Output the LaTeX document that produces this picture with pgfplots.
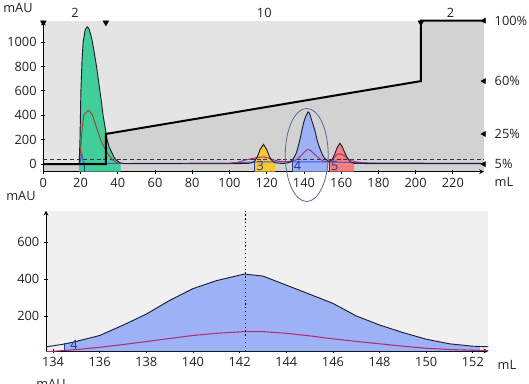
\documentclass[border=0pt]{standalone}
\usepackage{fontspec}
\setmainfont{Open Sans}
\usepackage{pgfplots}
\pgfplotsset{compat=1.18}
\definecolor{bglight}{RGB}{228,228,228}
\definecolor{bgdark}{RGB}{210,210,210}
\definecolor{bgbot}{RGB}{240,240,240}
\definecolor{pkgreen}{RGB}{64,206,154}
\definecolor{pkyellow}{RGB}{246,200,52}
\definecolor{pkblue}{RGB}{156,178,245}
\definecolor{pkred}{RGB}{244,128,126}
\definecolor{outl}{RGB}{30,30,50}
\definecolor{uvmag}{RGB}{176,44,120}
\definecolor{uvbrown}{RGB}{168,64,48}
\definecolor{uvblue}{RGB}{64,84,222}
\definecolor{fracblue}{RGB}{40,56,140}
\definecolor{txt}{RGB}{34,34,34}
\newcommand{\fs}{\fontsize{9.6}{11}\selectfont}
\pgfplotsset{
  base/.style={scale only axis, anchor=south west, clip=true,
    tick align=outside, major tick length=3pt,
    axis line style={-, black, line width=0.6pt},
    tick style={black, line width=0.6pt},
    tick label style={font=\fs, text=txt},
    /pgf/number format/assume math mode=true,
    /pgf/number format/1000 sep={}},
  hid/.style={scale only axis, anchor=south west, hide axis}
}
\begin{document}
\begin{tikzpicture}
% ---------- top: background and gradient area ----------
\begin{axis}[hid, at={(32.475pt,158.475pt)}, width=330.5pt, height=113.25pt,
  xmin=0, xmax=236.7, ymin=0, ymax=100]
\addplot[fill=bglight, draw=none] coordinates {(0,0)(0,100)(236.7,100)(236.7,0)} -- cycle;
\addplot[fill=bgdark, draw=none] coordinates {(0,0)(0,5)(33.6,5)(33.6,25)(202.8,60)(202.8,100)(236.7,100)(236.7,0)} -- cycle;
\end{axis}
% ---------- top: chromatogram ----------
\begin{axis}[base, at={(32.475pt,158.475pt)}, width=330.5pt, height=113.25pt,
  xmin=0, xmax=236.7, ymin=-63, ymax=1175,
  axis x line=bottom, axis y line=left,
  xtick={0,20,...,220}, ytick={0,200,...,1000}]
\addplot[fill=pkgreen, draw=none] coordinates {(19.3,-63)(19.3,5)(19.7,200)(20.2,600)(20.8,850)(21.4,1000)(22.5,1100)(23.6,1125)(24.5,1110)(25.5,1060)(26.4,1000)(27.5,900)(28.6,800)(29.5,700)(30.4,600)(31.3,500)(32.1,400)(33.2,300)(34.3,200)(35.4,140)(36.6,100)(38,55)(39,35)(40.2,20)(41.5,8)(41.5,-63)} -- cycle;
\addplot[fill=pkyellow, draw=none] coordinates {(113.3,-63)(113.3,21)(115,60)(116.5,120)(118.3,161)(120,118)(121.5,60)(123,25)(124.7,9)(124.7,-63)} -- cycle;
\addplot[fill=pkblue, draw=none] coordinates {(133.8,-63)(133.8,34)(134,38)(135,62)(136,94)(137,150)(138,210)(139,284)(140,348)(141,391)(142.2,427)(143,416)(144,367)(145,318)(146,268)(147,200)(148,151)(149,110)(150,74)(151,49)(152,36)(152.8,26)(152.8,-63)} -- cycle;
\addplot[fill=pkred, draw=none] coordinates {(153.6,-63)(153.6,20)(155,30)(156.5,80)(158,140)(159.3,170)(160.5,145)(162,90)(163.5,45)(165.2,15)(167,6)(167,-63)} -- cycle;
\addplot[black!80, dashed, dash pattern=on 3pt off 2pt, line width=0.6pt] coordinates {(0,38)(236.7,38)};
\addplot[uvblue, line width=0.7pt] coordinates {(0,3)(19.5,3)(20.2,40)(20.7,88)(21.2,40)(21.8,5)(40,4)(100,8)(110,15)(120,18)(150,18)(160,15)(175,8)(236.7,5)};
\addplot[uvbrown, line width=0.7pt] coordinates {(0,2)(19,2)(19.5,20)(20.2,150)(20.9,300)(21.8,400)(24.1,440)(25.3,425)(26.4,400)(28.6,300)(30.7,200)(32.3,150)(34,100)(35.8,60)(37.5,30)(39.5,12)(42,4)};
\addplot[uvmag, line width=0.7pt] coordinates {(42,4)(100,4)(104,12)(108,30)(112,45)(116,55)(118.5,58)(121,48)(124,32)(127,22)(131,20)(134,25)(136,35)(138,61)(140,94)(141.4,115)(142.5,118)(144,106)(146,76)(148,49)(150,27)(152,18)(154,22)(156,50)(158,80)(160,82)(162,65)(164,40)(167,20)(172,10)(180,6)(236.7,5)};
\addplot[outl, line width=0.7pt] coordinates {(0,2)(10,2)(18.5,3)(19.3,5)(19.7,200)(20.2,600)(20.8,850)(21.4,1000)(22.5,1100)(23.6,1125)(24.5,1110)(25.5,1060)(26.4,1000)(27.5,900)(28.6,800)(29.5,700)(30.4,600)(31.3,500)(32.1,400)(33.2,300)(34.3,200)(35.4,140)(36.6,100)(38,55)(39,35)(40.2,20)(41.5,8)(44,3)(100,2)(110,5)(112,10)(113.4,22)(115,60)(116.5,120)(118.3,161)(120,118)(121.5,60)(123,25)(124.5,10)(128,5)(130,6)(132,12)(133,22)(133.8,34)(134,38)(135,62)(136,94)(137,150)(138,210)(139,284)(140,348)(141,391)(142.2,427)(143,416)(144,367)(145,318)(146,268)(147,200)(148,151)(149,110)(150,74)(151,49)(152,36)(153.5,18)(155,30)(156.5,80)(158,140)(159.3,170)(160.5,145)(162,90)(163.5,45)(165.2,15)(167,6)(175,3)(236.7,3)};
\addplot[fracblue, line width=0.7pt] coordinates {(22.3,-63)(22.3,0)};
\addplot[fracblue, line width=0.7pt] coordinates {(113.3,-63)(113.3,38)};
\addplot[fracblue, line width=0.7pt] coordinates {(133.7,-63)(133.7,38)};
\addplot[fracblue, line width=0.7pt] coordinates {(153.5,-63)(153.5,38)};
\node[font=\fs, text=fracblue] at (axis cs:116.6,-14) {3};
\node[font=\fs, text=fracblue] at (axis cs:136.6,-14) {4};
\node[font=\fs, text=fracblue] at (axis cs:156.6,-14) {5};
\coordinate (ell) at (axis cs:141.5,74);
\end{axis}
\draw[color={rgb,255:red,90;green,106;blue,150}, line width=0.6pt] (ell) ellipse [x radius=16.1pt, y radius=34.9pt];
% ---------- top: gradient overlay ----------
\begin{axis}[hid, at={(32.475pt,158.475pt)}, width=330.5pt, height=113.25pt,
  xmin=0, xmax=236.7, ymin=0, ymax=100, clip=false]
\addplot[black, line width=1.5pt] coordinates {(0,5)(33.6,5)(33.6,25)(202.8,60)(202.8,100)(236.7,100)};
\addplot[only marks, mark=triangle*, mark size=2.2pt, mark options={rotate=90, fill=black, draw=black}] coordinates {(236.7,5)(236.7,25)(236.7,60)(236.7,100)};
\addplot[only marks, mark=triangle*, mark size=2.4pt, mark options={rotate=180, fill=black, draw=black}] coordinates {(0,98.8)(33.6,98.8)(202.8,98.8)};
\node[font=\fs, text=txt, anchor=west] at (axis cs:236.7,5) {\hspace{4.5pt}5\%};
\node[font=\fs, text=txt, anchor=west] at (axis cs:236.7,25) {\hspace{4.5pt}25\%};
\node[font=\fs, text=txt, anchor=west] at (axis cs:236.7,60) {\hspace{4.5pt}60\%};
\node[font=\fs, text=txt, anchor=west] at (axis cs:236.7,100) {\hspace{4.5pt}100\%};
\node[font=\fs, text=txt] at (axis cs:17,105) {2};
\node[font=\fs, text=txt] at (axis cs:118.7,105) {10};
\node[font=\fs, text=txt] at (axis cs:218.7,105) {2};
\end{axis}
% ---------- bottom: zoom ----------
\begin{axis}[base, at={(34.5pt,24pt)}, width=331.7pt, height=105.2pt,
  xmin=133.7, xmax=152.66, ymin=10, ymax=770,
  axis x line=bottom, axis y line=left,
  axis background/.style={fill=bgbot},
  xtick={134,136,...,152}, ytick={200,400,600}]
\addplot[fill=pkblue, draw=none] coordinates {(134.5,10)(134.5,48)(135,62)(136,94)(137,150)(138,210)(139,284)(140,348)(141,391)(142.2,427)(143,416)(144,367)(145,318)(146,268)(147,200)(148,151)(149,110)(150,74)(151,49)(152,36)(152.3,34)(152.3,10)} -- cycle;
\addplot[uvmag, line width=0.8pt] coordinates {(133.7,6)(134,8)(135,18)(136,30)(137,45)(138,61)(139,78)(140,94)(141,106)(142.2,115)(143,115)(144,106)(145,92)(146,76)(147,62)(148,49)(149,36)(150,25)(151,18)(152,14)(152.66,12)};
\addplot[outl, line width=0.7pt] coordinates {(133.7,33)(134,38)(134.5,48)(135,62)(136,94)(137,150)(138,210)(139,284)(140,348)(141,391)(142.2,427)(143,416)(144,367)(145,318)(146,268)(147,200)(148,151)(149,110)(150,74)(151,49)(152,36)(152.66,33)};
\addplot[black, dotted, line width=0.9pt] coordinates {(142.25,10)(142.25,770)};
\addplot[fracblue, line width=0.7pt] coordinates {(134.5,10)(134.5,56)};
\node[font=\fs, text=fracblue] at (axis cs:134.9,43) {4};
\end{axis}
% ---------- free labels ----------
\node[font=\fs, text=txt] at (13.5pt,281.25pt) {mAU};
\node[font=\fs, text=txt] at (378pt,150.75pt) {mL};
\node[font=\fs, text=txt] at (15.75pt,140.25pt) {mAU};
\node[font=\fs, text=txt] at (380.25pt,13.5pt) {mL};
\node[font=\fs, text=txt] at (38.25pt,-0.75pt) {mAU};
\pgfresetboundingbox
\useasboundingbox (0pt,0pt) rectangle (396.75pt,287.25pt);
\end{tikzpicture}
\end{document}
